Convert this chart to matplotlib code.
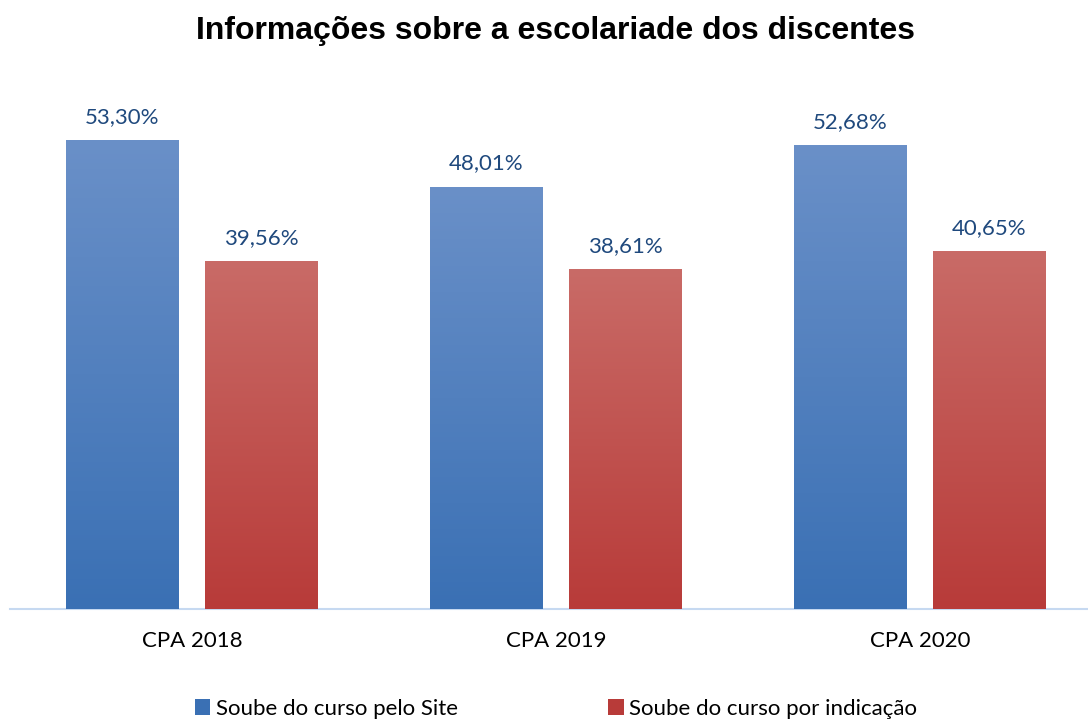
import numpy as np
import matplotlib
matplotlib.use("Agg")
import matplotlib.pyplot as plt
from matplotlib.colors import LinearSegmentedColormap
from matplotlib.patches import Patch

# chart data
categories = ["CPA 2018", "CPA 2019", "CPA 2020"]
site_values = [53.30, 48.01, 52.68]
indicacao_values = [39.56, 38.61, 40.65]
series_names = ["Soube do curso pelo Site", "Soube do curso por indicação"]

blue_top, blue_bottom = "#6a90c8", "#3a70b4"
red_top, red_bottom = "#c96b67", "#b83b39"

plt.rcParams['font.family'] = ['Lato', 'DejaVu Sans']

fig = plt.figure(figsize=(10.88, 7.22), dpi=100)
ax = fig.add_axes([10 / 1088, 1 - 609 / 722, 1078 / 1088, 528 / 722])

x = np.arange(len(categories))
width = 0.31
offset = 0.191

bars_site = ax.bar(x - offset, site_values, width, color=blue_bottom, zorder=2)
bars_ind = ax.bar(x + offset, indicacao_values, width, color=red_bottom, zorder=2)


def gradient_fill(bars, top, bottom):
    cmap = LinearSegmentedColormap.from_list("g", [bottom, top])
    grad = np.linspace(0, 1, 256).reshape(-1, 1)
    for b in bars:
        x0, y0 = b.get_x(), b.get_y()
        w, h = b.get_width(), b.get_height()
        im = ax.imshow(grad, cmap=cmap, origin="lower", aspect="auto",
                       extent=[x0, x0 + w, y0, y0 + h], zorder=3)
        im.set_clip_path(b)


gradient_fill(bars_site, blue_top, blue_bottom)
gradient_fill(bars_ind, red_top, red_bottom)

for bars, vals in [(bars_site, site_values), (bars_ind, indicacao_values)]:
    for b, v in zip(bars, vals):
        ax.text(b.get_x() + b.get_width() / 2, v + 1.5,
                f"{v:.2f}%".replace(".", ","), ha="center", va="bottom",
                fontsize=16, color="#1f497d")

ax.set_xlim(-0.5, 2.4615)
ax.set_ylim(0, 60)
ax.set_xticks(x)
ax.set_xticklabels(categories, fontsize=16)
ax.tick_params(axis="x", length=0, pad=16)
ax.set_yticks([])
for s in ["top", "right", "left"]:
    ax.spines[s].set_visible(False)
ax.spines["bottom"].set_color("#c6d9f1")
ax.spines["bottom"].set_linewidth(1.5)

fig.text(556 / 1088, 1 - 31 / 722, "Informações sobre a escolariade dos discentes",
         ha="center", va="center", fontsize=23, fontweight="bold",
         family=["Liberation Sans", "DejaVu Sans"])

handles = [Patch(facecolor=blue_bottom, label=series_names[0]),
           Patch(facecolor=red_bottom, label=series_names[1])]
fig.legend(handles=handles, loc="center", bbox_to_anchor=(556 / 1088, 1 - 709 / 722),
           ncol=2, frameon=False, fontsize=16, handlelength=0.7, handleheight=0.7,
           handletextpad=0.25, columnspacing=6.75)

fig.savefig("out.png", dpi=100)
